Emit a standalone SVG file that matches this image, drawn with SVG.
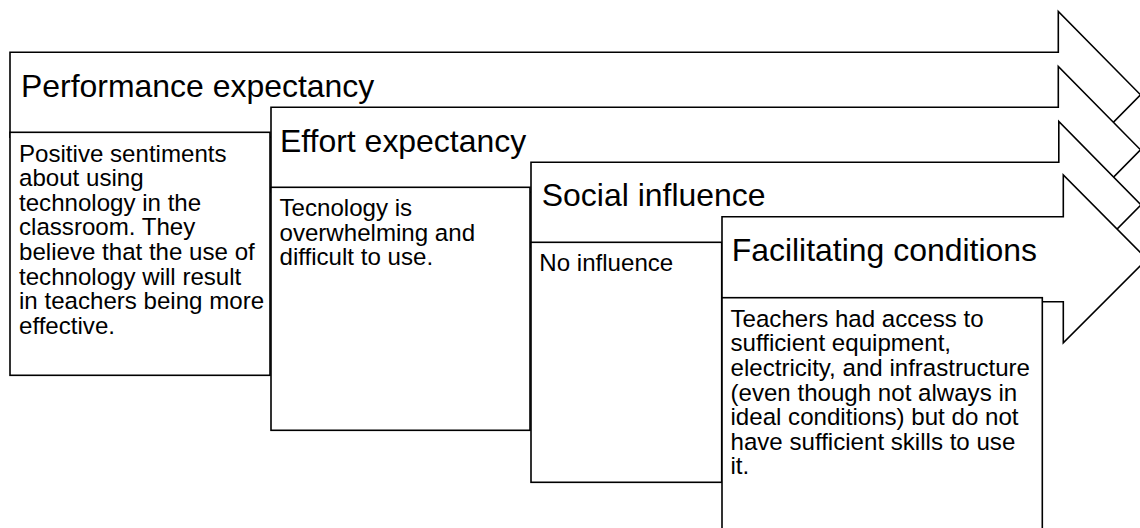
<svg xmlns="http://www.w3.org/2000/svg" width="1140" height="528" viewBox="0 0 1140 528">
<style>
.shape{fill:#fff;stroke:#000;stroke-width:1.6;stroke-linejoin:miter}
.hdr{font-family:"Liberation Sans",Arial,sans-serif;font-size:31.95px;fill:#000}
.body{font-family:"Liberation Sans",Arial,sans-serif;font-size:24.1px;fill:#000}
</style>
<rect width="1140" height="528" fill="#fff"/>
<g id="performance-expectancy">
<path class="shape" d="M10,52.3 H1058.3 V11.5 L1140.5,94.8 L1058.3,178 V137.3 H10 Z"/>
<text class="hdr" x="21" y="96.7">Performance expectancy</text>
<rect class="shape" x="10" y="132.3" width="260" height="243"/>
<text class="body">
<tspan x="19" y="161.5">Positive sentiments</tspan>
<tspan x="19" y="186.1">about using</tspan>
<tspan x="19" y="210.7">technology in the</tspan>
<tspan x="19" y="235.3">classroom. They</tspan>
<tspan x="19" y="259.9">believe that the use of</tspan>
<tspan x="19" y="284.5">technology will result</tspan>
<tspan x="19" y="309.1">in teachers being more</tspan>
<tspan x="19" y="333.7">effective.</tspan>
</text>
</g>
<g id="effort-expectancy">
<path class="shape" d="M271,107.3 H1058.3 V66.5 L1140.5,149.8 L1058.3,233 V192.3 H271 Z"/>
<text class="hdr" x="280" y="151.7">Effort expectancy</text>
<rect class="shape" x="271" y="187.3" width="259" height="243"/>
<text class="body">
<tspan x="279.5" y="216.2">Tecnology is</tspan>
<tspan x="279.5" y="240.8">overwhelming and</tspan>
<tspan x="279.5" y="265.4">difficult to use.</tspan>
</text>
</g>
<g id="social-influence">
<path class="shape" d="M531,162.3 H1058.8 V121.5 L1141,204.8 L1058.8,288 V247.3 H531 Z"/>
<text class="hdr" x="541.8" y="205.5">Social influence</text>
<rect class="shape" x="531" y="242.3" width="190.7" height="240"/>
<text class="body" x="539.3" y="271.2">No influence</text>
</g>
<g id="facilitating-conditions">
<path class="shape" d="M722,216.7 H1063.3 V175 L1147,259.2 L1063.3,342.7 V301.7 H722 Z"/>
<text class="hdr" x="731.7" y="260.7">Facilitating conditions</text>
<rect class="shape" x="722" y="297.7" width="320.3" height="250"/>
<text class="body">
<tspan x="730.5" y="326.7">Teachers had access to</tspan>
<tspan x="730.5" y="351.3">sufficient equipment,</tspan>
<tspan x="730.5" y="375.9">electricity, and infrastructure</tspan>
<tspan x="730.5" y="400.5">(even though not always in</tspan>
<tspan x="730.5" y="425.1">ideal conditions) but do not</tspan>
<tspan x="730.5" y="449.7">have sufficient skills to use</tspan>
<tspan x="730.5" y="474.3">it.</tspan>
</text>
</g>
</svg>
